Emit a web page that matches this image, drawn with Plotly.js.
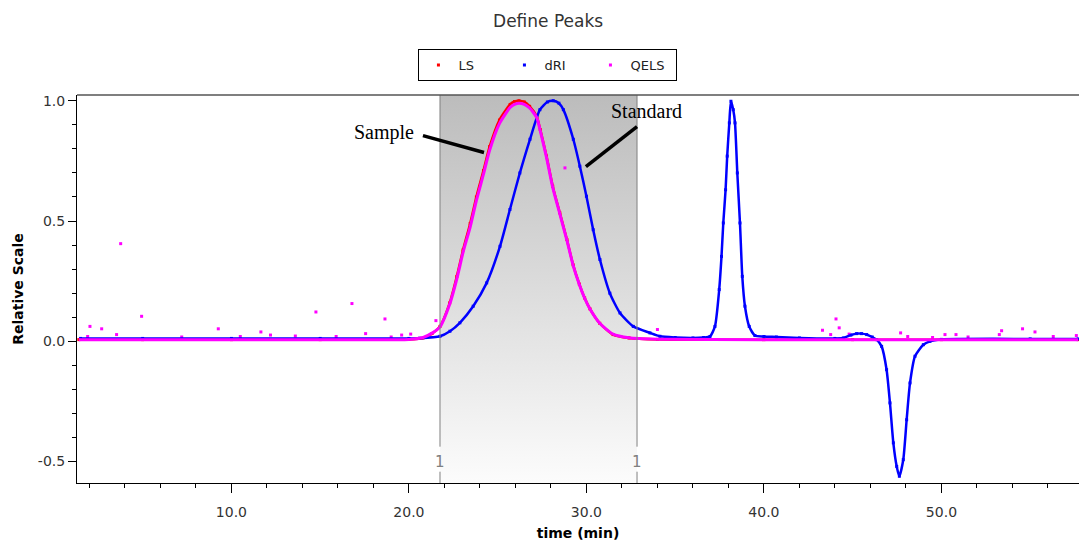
<!DOCTYPE html>
<html>
<head>
<meta charset="utf-8">
<script src="https://cdn.plot.ly/plotly-3.0.1.min.js"></script>
<style>
  html, body { margin: 0; padding: 0; background: #fff; }
  #chart { width: 1079px; height: 543px; }
</style>
</head>
<body>
<div id="chart"></div>
<script>
// Detector traces (elution time in minutes, normalised response)
const seriesNames = ['LS', 'dRI', 'QELS'];

const lsTime = [1.4, 5, 10, 15, 20, 20.8, 21.3, 21.75, 22.3, 22.7, 23.05, 23.45, 23.8, 24.2, 24.55, 25.1, 25.7, 25.95, 26.2, 26.5, 26.8, 27.2, 27.4, 27.75, 28.1, 28.5, 28.9, 29.25, 29.6, 29.9, 30.2, 30.75, 31.5, 32.4, 34, 40, 45, 50, 57.7];
const lsSignal = [0.007, 0.007, 0.007, 0.007, 0.008, 0.014, 0.032, 0.062, 0.16, 0.27, 0.38, 0.49, 0.6, 0.71, 0.81, 0.92, 0.985, 0.997, 1.0, 0.995, 0.977, 0.935, 0.88, 0.77, 0.645, 0.534, 0.423, 0.318, 0.238, 0.18, 0.135, 0.075, 0.028, 0.014, 0.008, 0.007, 0.007, 0.007, 0.007];

const driTime = [1.5, 5, 10, 15, 20, 20.6, 21.75, 22.31, 22.87, 23.62, 24.38, 25.13, 25.69, 26.25, 26.82, 27.38, 27.8, 28.13, 28.45, 28.7, 29.26, 29.63, 30.0, 30.38, 30.76, 31.32, 31.89, 32.64, 33.58, 34.14, 35, 36, 36.6, 36.96, 37.24, 37.48, 37.61, 37.71, 37.84, 37.93, 38.05, 38.14, 38.27, 38.37, 38.5, 38.65, 38.78, 38.93, 39.17, 39.49, 40, 40.7, 42, 44, 44.47, 44.9, 45.22, 45.5, 45.79, 46.1, 46.35, 46.63, 46.91, 47.1, 47.29, 47.48, 47.63, 47.85, 48.04, 48.23, 48.51, 48.98, 49.35, 50, 55, 57.7];
const driSignal = [0.012, 0.012, 0.012, 0.012, 0.012, 0.013, 0.021, 0.042, 0.077, 0.146, 0.243, 0.395, 0.548, 0.7, 0.84, 0.963, 0.995, 1.0, 0.99, 0.963, 0.84, 0.728, 0.603, 0.464, 0.34, 0.2, 0.118, 0.062, 0.035, 0.021, 0.016, 0.014, 0.016, 0.02, 0.062, 0.215, 0.353, 0.492, 0.63, 0.77, 0.908, 0.998, 0.963, 0.908, 0.7, 0.492, 0.27, 0.146, 0.062, 0.024, 0.02, 0.018, 0.014, 0.012, 0.014, 0.026, 0.032, 0.032, 0.028, 0.018, 0.007, -0.021, -0.118, -0.256, -0.422, -0.52, -0.561, -0.492, -0.326, -0.173, -0.062, -0.014, 0.0, 0.008, 0.01, 0.01];

const qelsTime = [1.4, 5, 10, 15, 20, 20.8, 21.3, 21.75, 22.3, 22.7, 23.05, 23.45, 23.8, 24.2, 24.55, 25.1, 25.7, 25.95, 26.2, 26.5, 26.8, 27.2, 27.4, 27.75, 28.1, 28.5, 28.9, 29.25, 29.6, 29.9, 30.2, 30.75, 31.5, 32.4, 34, 40, 45, 50, 57.7];
const qelsSignal = [0.007, 0.007, 0.007, 0.007, 0.008, 0.016, 0.034, 0.06, 0.155, 0.26, 0.37, 0.475, 0.585, 0.695, 0.795, 0.905, 0.972, 0.985, 0.99, 0.985, 0.97, 0.93, 0.875, 0.765, 0.64, 0.53, 0.42, 0.316, 0.236, 0.179, 0.134, 0.075, 0.03, 0.015, 0.009, 0.007, 0.007, 0.007, 0.007];

// Scattered QELS readings away from the main trace
const qelsSpikeTime = [1.9, 2.03, 2.69, 3.53, 3.76, 4.94, 7.2, 9.26, 10.5, 11.66, 12.2, 13.6, 14.76, 15.9, 16.79, 17.56, 18.65, 19.0, 19.59, 20.1, 21.52, 28.79, 34.0, 43.3, 43.76, 44.06, 44.24, 44.8, 47.7, 48.1, 49.5, 50.2, 50.82, 51.5, 53.26, 53.39, 54.57, 55.27, 56.3, 57.6];
const qelsSpikeSignal = [0.02, 0.062, 0.052, 0.028, 0.406, 0.104, 0.018, 0.052, 0.02, 0.039, 0.026, 0.022, 0.122, 0.02, 0.157, 0.032, 0.093, 0.018, 0.026, 0.03, 0.086, 0.721, 0.049, 0.046, 0.028, 0.093, 0.056, 0.03, 0.035, 0.02, 0.016, 0.028, 0.028, 0.018, 0.028, 0.044, 0.052, 0.039, 0.02, 0.024];

// Axis tick values and their printed labels
const yTickValues = [-0.5, 0.0, 0.5, 1.0];
const yTickLabels = ['-0.5', '0.0', '0.5', '1.0'];

// Integration limits of the defined peak
const peakLimits = [21.75, 32.85];

const xRange = [1.3, 57.75];
const yRange = [-0.589, 1.024];

const colors = { LS: '#ff0000', dRI: '#0000ff', QELS: '#ff00ff' };
const font = 'DejaVu Sans, Verdana, sans-serif';

const traces = [];

// Shaded peak window with a vertical grey gradient
traces.push({
  x: [peakLimits[0], peakLimits[1], peakLimits[1], peakLimits[0], peakLimits[0]],
  y: [yRange[0], yRange[0], yRange[1], yRange[1], yRange[0]],
  mode: 'lines', line: { width: 0 }, fill: 'toself',
  fillgradient: {
    type: 'vertical', start: yRange[0], stop: yRange[1],
    colorscale: [[0, '#fcfcfc'], [1, '#bcbcbc']]
  },
  hoverinfo: 'skip', showlegend: false
});

// Point markers (these carry the legend entries)
traces.push({ x: lsTime, y: lsSignal, name: seriesNames[0], legendgroup: 'LS', mode: 'markers',
  marker: { color: colors.LS, size: 3, symbol: 'square' } });
traces.push({ x: driTime, y: driSignal, name: seriesNames[1], legendgroup: 'dRI', mode: 'markers',
  marker: { color: colors.dRI, size: 3, symbol: 'square' } });
traces.push({ x: qelsSpikeTime, y: qelsSpikeSignal, name: seriesNames[2], legendgroup: 'QELS', mode: 'markers',
  marker: { color: colors.QELS, size: 3, symbol: 'square' } });

// Continuous detector traces
traces.push({ x: lsTime, y: lsSignal, legendgroup: 'LS', mode: 'lines', showlegend: false,
  line: { color: colors.LS, width: 2.5, shape: 'spline', smoothing: 0.6 } });
traces.push({ x: driTime, y: driSignal, legendgroup: 'dRI', mode: 'lines', showlegend: false,
  line: { color: colors.dRI, width: 2.5, shape: 'spline', smoothing: 0.6 } });
traces.push({ x: qelsTime, y: qelsSignal, legendgroup: 'QELS', mode: 'lines', showlegend: false,
  line: { color: colors.QELS, width: 3, shape: 'spline', smoothing: 0.6 } });

const limitShapes = [];
peakLimits.forEach(t => {
  limitShapes.push({ type: 'line', xref: 'x', yref: 'y', x0: t, x1: t, y0: yRange[1], y1: -0.438,
    line: { color: '#808080', width: 1 }, layer: 'above' });
  limitShapes.push({ type: 'line', xref: 'x', yref: 'y', x0: t, x1: t, y0: -0.542, y1: yRange[0],
    line: { color: '#808080', width: 1 }, layer: 'above' });
});

const layout = {
  width: 1079, height: 543,
  margin: { l: 77, r: 0, t: 95, b: 60 },
  paper_bgcolor: '#ffffff', plot_bgcolor: '#ffffff',
  font: { family: font, size: 13, color: '#333' },
  title: {
    text: 'Define Peaks', xref: 'container', x: 0.508, xanchor: 'center',
    yref: 'container', y: 0.961, yanchor: 'middle',
    font: { family: font, size: 17, color: '#333' }
  },
  showlegend: true,
  legend: {
    orientation: 'h', xref: 'paper', x: 0.47, xanchor: 'center',
    yref: 'paper', y: 1.1186, yanchor: 'top',
    bordercolor: '#000', borderwidth: 1, bgcolor: '#fff',
    font: { family: font, size: 13, color: '#222' },
    entrywidth: 41, entrywidthmode: 'pixels'
  },
  xaxis: {
    range: xRange, showgrid: false, zeroline: false,
    showline: true, linecolor: '#000', linewidth: 1,
    ticks: 'outside', ticklen: 9, tickcolor: '#000', tickwidth: 1,
    tick0: 0, dtick: 10, tickformat: '.1f', ticklabelstandoff: 7,
    tickfont: { family: font, size: 14, color: '#333' },
    minor: { dtick: 2, tick0: 0, ticks: 'outside', ticklen: 4, tickcolor: '#000', showgrid: false },
    title: { text: 'time (min)', standoff: 9, font: { family: font, size: 14, color: '#000', weight: 'bold' } },
    automargin: false
  },
  yaxis: {
    range: yRange, showgrid: false, zeroline: false,
    showline: true, linecolor: '#000', linewidth: 1,
    ticks: 'outside', ticklen: 8, tickcolor: '#000', tickwidth: 1,
    tickmode: 'array', tickvals: yTickValues, ticktext: yTickLabels,
    tickfont: { family: font, size: 14, color: '#333' },
    minor: { dtick: 0.1, tick0: 0, ticks: 'outside', ticklen: 4, tickcolor: '#000', showgrid: false },
    title: { text: 'Relative Scale', standoff: 10, font: { family: font, size: 14, color: '#000', weight: 'bold' } },
    automargin: false
  },
  shapes: limitShapes.concat([
    // top frame line
    { type: 'line', xref: 'paper', yref: 'paper', x0: 0, x1: 1, y0: 1, y1: 1,
      line: { color: '#555', width: 1.5 }, layer: 'above' },
    // pointers from the labels to the curves
    { type: 'line', xref: 'x', yref: 'y', x0: 20.79, y0: 0.855, x1: 24.23, y1: 0.785,
      line: { color: '#000', width: 3.5 }, layer: 'above' },
    { type: 'line', xref: 'x', yref: 'y', x0: 32.85, y0: 0.893, x1: 29.97, y1: 0.726,
      line: { color: '#000', width: 3.5 }, layer: 'above' }
  ]),
  annotations: [
    { x: 18.59, y: 0.868, xref: 'x', yref: 'y', text: 'Sample', showarrow: false,
      font: { family: 'Liberation Serif, Times New Roman, serif', size: 20, color: '#000' } },
    { x: 33.41, y: 0.959, xref: 'x', yref: 'y', text: 'Standard', showarrow: false,
      font: { family: 'Liberation Serif, Times New Roman, serif', size: 20, color: '#000' } },
    { x: peakLimits[0], y: -0.503, xref: 'x', yref: 'y', text: '1', showarrow: false,
      font: { family: font, size: 15, color: '#808080' } },
    { x: peakLimits[1], y: -0.503, xref: 'x', yref: 'y', text: '1', showarrow: false,
      font: { family: font, size: 15, color: '#808080' } }
  ]
};

Plotly.newPlot('chart', traces, layout, { displayModeBar: false, staticPlot: true });
</script>
</body>
</html>
